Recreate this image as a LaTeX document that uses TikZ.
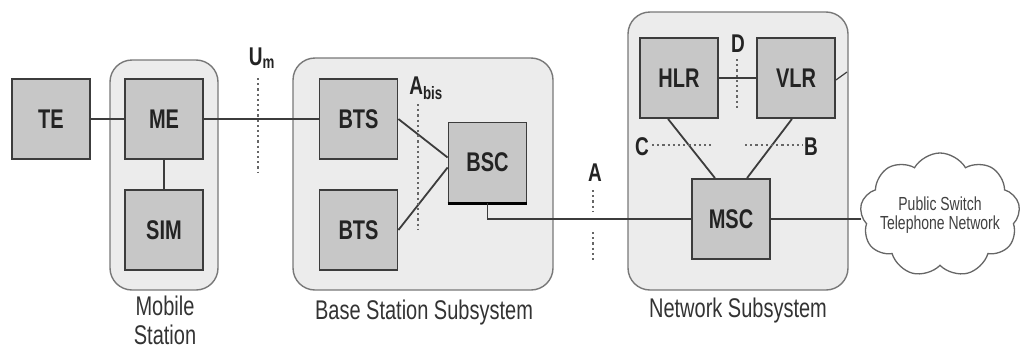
\documentclass[tikz,border=0pt]{standalone}
\usepackage{fontspec}
\setmainfont{Liberation Sans}
\usepackage{graphicx}
\usetikzlibrary{shapes.symbols,calc}
\definecolor{boxfill}{RGB}{199,199,199}
\definecolor{contfill}{RGB}{236,236,236}
\definecolor{contline}{RGB}{120,120,120}
\definecolor{boxline}{RGB}{60,60,60}
\definecolor{ink}{RGB}{35,35,35}
% all lettering is set slightly stretched vertically
\newcommand{\tall}[1]{\scalebox{1}[1.35]{#1}}
\begin{document}
\begin{tikzpicture}[x=1pt,y=-1pt,
  unit/.style={draw=boxline, line width=1.8pt, fill=boxfill, minimum width=78pt,
    minimum height=80pt, inner sep=0pt, font=\fontsize{20}{24}\selectfont\bfseries, text=ink},
  group/.style={draw=contline, line width=1.4pt, fill=contfill, rounded corners=22pt, inner sep=0pt},
  link/.style={draw=boxline, line width=1.8pt},
  iface/.style={draw=black!60, line width=2.6pt, dash pattern=on 2.2pt off 3pt},
  caption/.style={font=\fontsize{20}{22}\selectfont, text=black!80, inner sep=0pt},
  letter/.style={font=\fontsize{19}{22}\selectfont\bfseries, text=ink, inner sep=0pt}]
\useasboundingbox (0,0) rectangle (1025,351);

% subsystem frames
\node[group, minimum width=108pt, minimum height=230pt] (ms) at (164,175) {};
\node[group, minimum width=260pt, minimum height=232pt] (bss) at (423,174) {};
\node[group, minimum width=220pt, minimum height=278pt] (nss) at (738,151) {};

% functional units
\node[unit] (te) at (51,119) {\tall{TE}};
\node[unit] (me) at (164,119) {\tall{ME}};
\node[unit] (sim) at (164,230) {\tall{SIM}};
\node[unit] (bts1) at (358.5,119) {\tall{BTS}};
\node[unit] (bts2) at (358.5,230) {\tall{BTS}};
\node[unit] (bsc) at (487.5,162.5) {\tall{BSC}};
\node[unit] (hlr) at (679,78) {\tall{HLR}};
\node[unit] (vlr) at (796,78) {\tall{VLR}};
\node[unit] (msc) at (731,219) {\tall{MSC}};
\draw[line width=3pt, black] (bsc.south west) -- (bsc.south east);

% public network
\node[cloud, draw=black!60, line width=1.3pt, fill=white, cloud puffs=9, cloud puff arc=120,
  cloud ignores aspect, minimum width=160pt, minimum height=124pt, inner sep=0pt] (pstn) at (940,215) {};
\node[font=\fontsize{14}{19}\selectfont, text=black!75, align=center, inner sep=0pt] (pstnt) at (pstn.center)
  {\tall{Public Switch}\\\tall{Telephone Network}};

% links
\draw[link] (te) -- (me);
\draw[link] (me) -- (sim);
\draw[link] (me) -- (bts1);
\draw[link] (bts1.east) -- ([yshift=5pt]bsc.west);
\draw[link] (bts2.east) -- ([yshift=-5pt]bsc.west);
\draw[link] (bsc.south) |- (msc.west);
\draw[link] (hlr) -- (vlr);
\draw[link] ([xshift=-11pt]hlr.south) -- ([xshift=-16pt]msc.north);
\draw[link] ([xshift=-4pt]vlr.south) -- ([xshift=16pt]msc.north);
\draw[link] (msc.east) -- (msc.east -| pstn.west);
\coordinate (stub) at (847,72);
\draw[link, line width=1.2pt] ([yshift=-2pt]vlr.east) -- (stub);

% air and network interfaces
\node[letter] (um) at (262,58) {\tall{U\textsubscript{m}}};
\coordinate (um1) at (258,78);  \coordinate (um2) at (258,172);
\draw[iface] (um1) -- (um2);
\node[letter] (abis) at (426,88) {\tall{A\textsubscript{bis}}};
\coordinate (ab1) at (418,104); \coordinate (ab2) at (418,230);
\draw[iface] (ab1) -- (ab2);
\node[letter] (aif) at (595,173) {\tall{A}};
\coordinate (a1) at (593,190); \coordinate (a2) at (593,212);
\coordinate (a3) at (593,232); \coordinate (a4) at (593,263);
\draw[iface] (a1) -- (a2);
\draw[iface] (a3) -- (a4);
\node[letter] (dif) at (738,44) {\tall{D}};
\coordinate (d1) at (737,59); \coordinate (d2) at (737,108);
\draw[iface] (d1) -- (d2);
\node[letter] (cif) at (642,147) {\tall{C}};
\coordinate (c1) at (652,145); \coordinate (c2) at (712,145);
\draw[iface] (c1) -- (c2);
\node[letter] (bif) at (811,147) {\tall{B}};
\coordinate (b1) at (745,145); \coordinate (b2) at (803,145);
\draw[iface] (b1) -- (b2);

% captions
\node[caption] (mscap1) at (165,306) {\tall{Mobile}};
\node[caption] (mscap2) at (165,335) {\tall{Station}};
\node[caption] (bsscap) at (424,313) {\tall{Base Station Subsystem}};
\node[caption] (nsscap) at (738,311) {\tall{Network Subsystem}};
\end{tikzpicture}
\end{document}
